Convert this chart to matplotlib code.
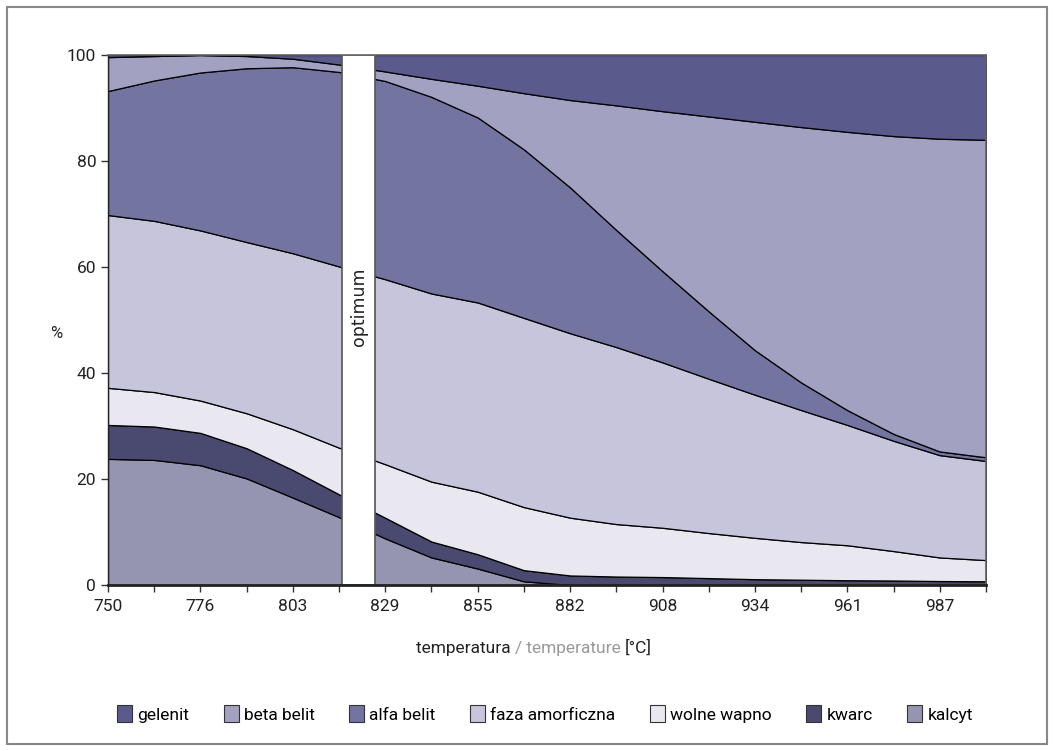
import numpy as np
import matplotlib
matplotlib.use("Agg")
import matplotlib.pyplot as plt
from matplotlib.patches import Patch, Rectangle

plt.rcParams['font.family'] = ['Roboto', 'DejaVu Sans']

# temperatures of the 20 measuring points
temps = [750, 763.2, 776.3, 789.5, 802.6, 815.8, 828.9, 842.1, 855.3, 868.4,
         881.6, 894.7, 907.9, 921.1, 934.2, 947.4, 960.5, 973.7, 986.8, 1000]
tick_labels = ['750', '', '776', '', '803', '', '829', '', '855', '',
               '882', '', '908', '', '934', '', '961', '', '987', '']

# phase shares in %, bottom of the stack first
kalcyt = [23.8, 23.6, 22.6, 20.1, 16.5, 12.8, 8.8, 5.2, 3.1, 0.7,
          0, 0, 0, 0, 0, 0, 0, 0, 0, 0]
kwarc = [6.4, 6.3, 6.1, 5.7, 5.2, 4.3, 3.9, 3.0, 2.7, 2.1,
         1.8, 1.6, 1.5, 1.3, 1.1, 1.0, 0.9, 0.85, 0.75, 0.7]
wolne_wapno = [7.0, 6.5, 6.1, 6.6, 7.7, 8.8, 10.1, 11.3, 11.8, 11.9,
               10.9, 9.9, 9.3, 8.5, 7.8, 7.1, 6.6, 5.55, 4.45, 4.0]
faza_amorficzna = [32.6, 32.3, 32.1, 32.3, 33.2, 34.2, 34.9, 35.5, 35.7, 35.7,
                   34.8, 33.4, 31.2, 29.1, 27.0, 24.9, 22.7, 20.8, 19.3, 18.7]
alfa_belit = [23.4, 26.5, 29.8, 32.8, 35.1, 36.7, 37.4, 37.1, 34.9, 31.8,
              27.5, 22.1, 17.2, 12.7, 8.4, 5.2, 2.8, 1.3, 0.7, 0.7]
beta_belit = [6.4, 4.6, 3.3, 2.3, 1.6, 1.4, 1.8, 3.4, 6.0, 10.6,
              16.5, 23.5, 30.2, 36.8, 43.1, 48.2, 52.5, 56.2, 59.0, 59.9]
gelenit = [0.4, 0.2, 0.0, 0.2, 0.7, 1.8, 3.1, 4.5, 5.8, 7.2,
           8.5, 9.5, 10.6, 11.6, 12.6, 13.6, 14.5, 15.3, 15.8, 16.0]

names = ['kalcyt', 'kwarc', 'wolne wapno', 'faza amorficzna',
         'alfa belit', 'beta belit', 'gelenit']
colors = ['#9594b1', '#4a4a70', '#e9e8f0', '#c6c5dc',
          '#7374a0', '#a2a1c2', '#5a5b8c']
optimum = (816.7, 826.1)

fig = plt.figure(figsize=(10.54, 7.51), dpi=100)
ax = fig.add_axes([108/1054, 1-585/751, 878/1054, 530/751])

ax.stackplot(temps, kalcyt, kwarc, wolne_wapno, faza_amorficzna,
             alfa_belit, beta_belit, gelenit,
             colors=colors, edgecolor='black', linewidth=0.9)

# optimum band
ax.add_patch(Rectangle((optimum[0], 0), optimum[1]-optimum[0], 100,
                       facecolor='white', edgecolor='#555555', lw=1.2, zorder=5))
ax.text(sum(optimum)/2, 52.5, 'optimum', rotation=90, ha='center', va='center',
        fontsize=12.5, family='DejaVu Sans', color='#222222', zorder=6)

ax.set_xlim(750, 1000)
ax.set_ylim(0, 100)
ax.set_xticks(temps)
ax.set_xticklabels(tick_labels)
ax.set_yticks([0, 20, 40, 60, 80, 100])
ax.tick_params(axis='both', direction='out', length=5, width=1,
               labelsize=12.5, color='#333333', labelcolor='#222222')
ax.tick_params(axis='x', pad=5)

for s in ['left', 'bottom']:
    ax.spines[s].set_color('#222222')
ax.spines['bottom'].set_linewidth(2)
ax.spines['left'].set_linewidth(1)
for s in ['top', 'right']:
    ax.spines[s].set_color('#666666')
    ax.spines[s].set_linewidth(1.2)
for s in ax.spines.values():
    s.set_zorder(7)

fig.text(56/1054, 1-334/751, '%', fontsize=12, ha='center', va='center',
         color='#222222')

# x label in two colours
t1 = fig.text(416/1054, 1-648/751, 'temperatura ', fontsize=12.5,
              ha='left', va='center', color='#222222')
t2 = fig.text(0, 0, '/ temperature ', fontsize=12.5, color='#999999',
              transform=None)
fig.canvas.draw()
r = fig.canvas.get_renderer()
bb = t1.get_window_extent(r)
t2.set_position((bb.x1, bb.y0))
t2.set_va('bottom')
fig.canvas.draw()
bb2 = t2.get_window_extent(r)
fig.text(bb2.x1, bb.y0, '[°C]', fontsize=12.5, color='#222222',
         va='bottom', transform=None)

handles = [Patch(facecolor=c, edgecolor='#333333', linewidth=0.8)
           for c in colors[::-1]]
fig.legend(handles, names[::-1], loc='center', ncol=7,
           bbox_to_anchor=(545/1054, 1-714/751), frameon=False,
           fontsize=12.5, handlelength=0.85, handleheight=1.15,
           handletextpad=0.3, columnspacing=2.0)

# thin outer frame
fig.patches.append(Rectangle((7/1054, 7/751), 1040/1054, 737/751,
                             transform=fig.transFigure, fill=False,
                             edgecolor='#888888', lw=1.5))

fig.savefig('out.png', dpi=100)
